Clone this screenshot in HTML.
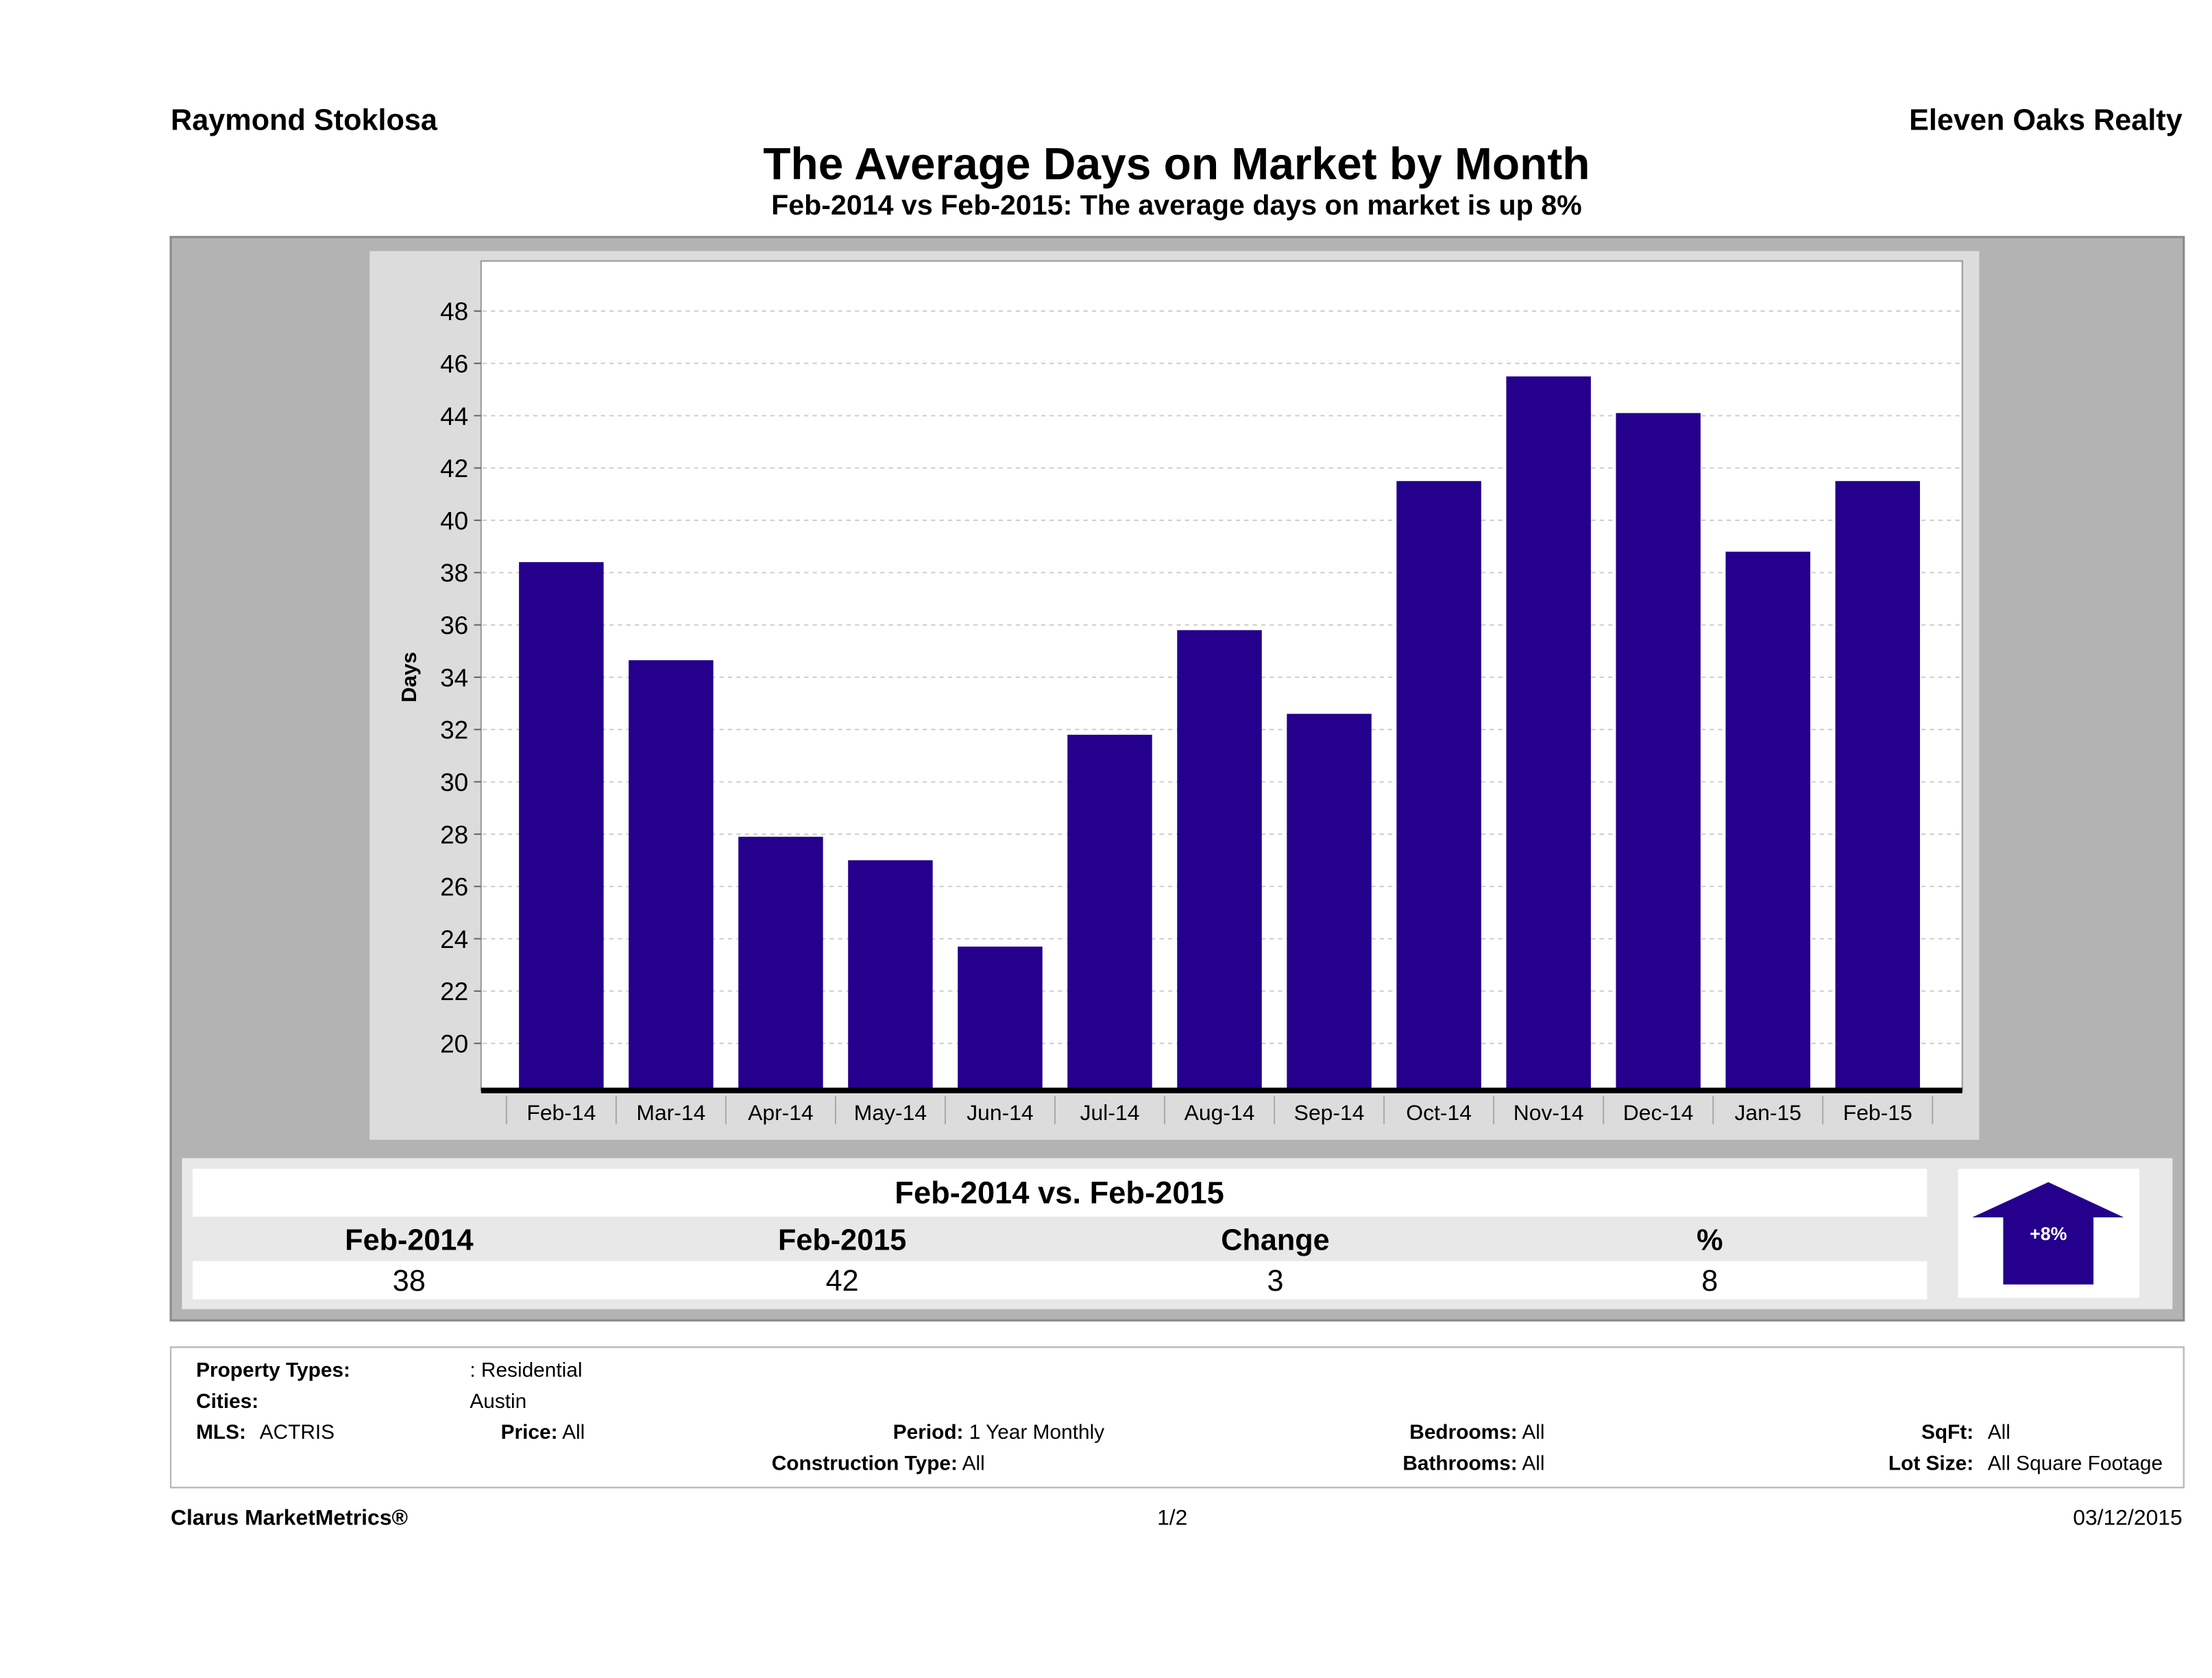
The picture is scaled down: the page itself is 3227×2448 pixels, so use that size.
<!DOCTYPE html>
<html><head><meta charset="utf-8"><style>
html,body{margin:0;padding:0;background:#fff;}
svg{display:block;font-family:"Liberation Sans",sans-serif;}
.n{font-family:"Liberation Sans Narrow","Liberation Sans",sans-serif;}
</style></head><body>
<svg id="chart" width="3227" height="2448" viewBox="0 0 1568 1189.5" xmlns="http://www.w3.org/2000/svg">
<text x="121" y="92" font-size="21" font-weight="bold">Raymond Stoklosa</text>
<text x="1547" y="92" font-size="21" font-weight="bold" text-anchor="end">Eleven Oaks Realty</text>
<text x="834" y="127" font-size="32" font-weight="bold" text-anchor="middle">The Average Days on Market by Month</text>
<text x="834" y="152" font-size="20" font-weight="bold" text-anchor="middle">Feb-2014 vs Feb-2015: The average days on market is up 8%</text>
<rect x="121" y="168" width="1427" height="768" fill="#b3b3b3" stroke="#8a8a8a" stroke-width="1.5"/>
<rect x="262" y="178" width="1141" height="630" fill="#dcdcdc"/>
<rect x="341" y="185" width="1050" height="588" fill="#fff" stroke="#999" stroke-width="1"/>
<g id="grid"></g><g id="bars"></g><g id="axes"></g>
<text class="n" transform="translate(295,480) rotate(-90)" font-size="15" font-weight="bold" text-anchor="middle">Days</text>
<rect x="129" y="821" width="1411" height="107" fill="#e8e8e8"/>
<rect x="136.5" y="828.5" width="1229.5" height="34" fill="#fff"/>
<rect x="136.5" y="894" width="1229.5" height="27" fill="#fff"/>
<text class="n" x="751" y="853" font-size="22" font-weight="bold" text-anchor="middle">Feb-2014 vs. Feb-2015</text>
<g class="n" font-size="21" font-weight="bold" text-anchor="middle">
<text x="290" y="886">Feb-2014</text>
<text x="597" y="886">Feb-2015</text>
<text x="904" y="886">Change</text>
<text x="1212" y="886">%</text>
</g>
<g class="n" font-size="21" text-anchor="middle">
<text x="290" y="915">38</text>
<text x="597" y="915">42</text>
<text x="904" y="915">3</text>
<text x="1212" y="915">8</text>
</g>
<rect x="1388" y="828.5" width="128.5" height="91.5" fill="#fff"/>
<polygon points="1452,838 1505.5,863 1484,863 1484,910.5 1420,910.5 1420,863 1398,863" fill="#24008c"/>
<text class="n" x="1452" y="879" font-size="13" font-weight="bold" fill="#fff" text-anchor="middle">+8%</text>
<rect x="121" y="955" width="1427" height="99.5" fill="#fff" stroke="#bbb" stroke-width="1.2"/>
<g class="n" font-size="14.5">
<text x="139" y="976" font-weight="bold">Property Types:</text>
<text x="333" y="976">: Residential</text>
<text x="139" y="998" font-weight="bold">Cities:</text>
<text x="333" y="998">Austin</text>
<text x="139" y="1020" font-weight="bold">MLS:</text>
<text x="184" y="1020">ACTRIS</text>
<text x="355" y="1020"><tspan font-weight="bold">Price:</tspan> All</text>
<text x="633" y="1020"><tspan font-weight="bold">Period:</tspan> 1 Year Monthly</text>
<text x="547" y="1042"><tspan font-weight="bold">Construction Type:</tspan> All</text>
<text x="1095" y="1020" text-anchor="end"><tspan font-weight="bold">Bedrooms:</tspan> All</text>
<text x="1095" y="1042" text-anchor="end"><tspan font-weight="bold">Bathrooms:</tspan> All</text>
<text x="1399" y="1020" text-anchor="end" font-weight="bold">SqFt:</text>
<text x="1409" y="1020">All</text>
<text x="1399" y="1042" text-anchor="end" font-weight="bold">Lot Size:</text>
<text x="1409" y="1042">All Square Footage</text>
</g>
<text x="121" y="1081" font-size="15.5" font-weight="bold">Clarus MarketMetrics®</text>
<text x="831" y="1081" font-size="15.5" text-anchor="middle">1/2</text>
<text x="1547" y="1081" font-size="15.5" text-anchor="end">03/12/2015</text>
</svg>
<script>
const categories = ["Feb-14","Mar-14","Apr-14","May-14","Jun-14","Jul-14","Aug-14","Sep-14","Oct-14","Nov-14","Dec-14","Jan-15","Feb-15"];
const days = [38.4, 34.65, 27.9, 27.0, 23.7, 31.8, 35.8, 32.6, 41.5, 45.5, 44.1, 38.8, 41.5];
const yTicks = [20,22,24,26,28,30,32,34,36,38,40,42,44,46,48];
const NS = "http://www.w3.org/2000/svg";
const yMin = 18.2, yMax = 48;
function yScale(v){ return 773 - (v - yMin) / (yMax - yMin) * (773 - 220.5); }
const band = 77.76;
function xCenter(i){ return 359 + band * (i + 0.5); }
function mk(tag, attrs, parent){ const e = document.createElementNS(NS, tag); for (const k in attrs) e.setAttribute(k, attrs[k]); parent.appendChild(e); return e; }
const grid = document.getElementById('grid'), bars = document.getElementById('bars'), axes = document.getElementById('axes');
yTicks.forEach(t => {
  const y = yScale(t);
  const gl = mk('line', {x1:342, x2:1390, y1:y, y2:y, stroke:'#cfcfcf', 'stroke-dasharray':'3,3', 'stroke-width':1}, grid);
  
  
  const tk = mk('line', {x1:336, x2:341, y1:y, y2:y, stroke:'#666', 'stroke-width':1}, axes);
  
  
  const lb = mk('text', {x:332, y:y+6.5, 'font-size':18, 'text-anchor':'end', class:'n'}, axes);
  lb.textContent = t;
  
  
});
categories.forEach((c, i) => {
  const cx = xCenter(i), y = yScale(days[i]);
  const b = mk('rect', {x:cx-30, y:y, width:60, height:773-y, fill:'#24008c'}, bars);
  
  
  const lb = mk('text', {x:cx, y:794, 'font-size':15.5, 'text-anchor':'middle', class:'n'}, axes);
  lb.textContent = c;
  
  
});
for (let i = 0; i <= categories.length; i++) {
  const x = 359 + band * i;
  const s = mk('line', {x1:x, x2:x, y1:777, y2:797, stroke:'#aaa', 'stroke-width':1}, axes);
  
  
}
const ax = mk('line', {x1:341, x2:1391, y1:773, y2:773, stroke:'#000', 'stroke-width':4}, axes);


</script>
</body></html>
